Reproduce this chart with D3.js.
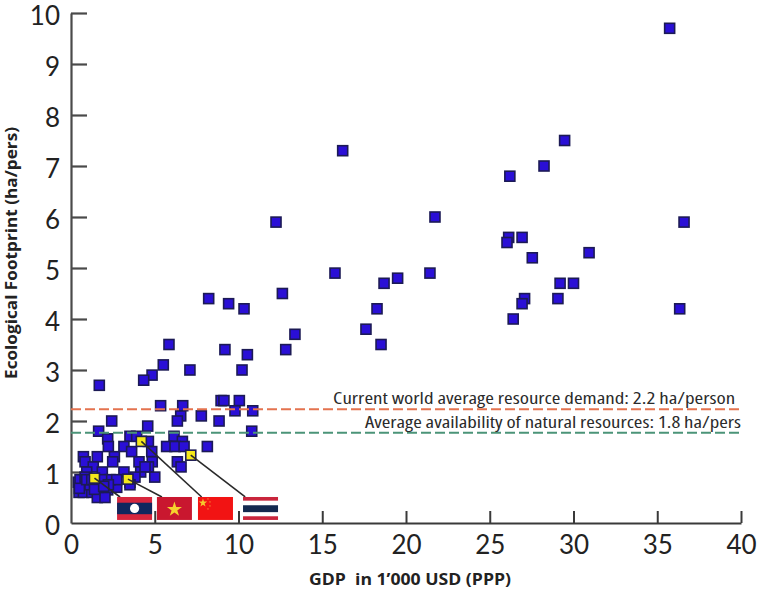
<!DOCTYPE html>
<html>
<head>
<meta charset="utf-8">
<script src="https://cdn.jsdelivr.net/npm/d3@7"></script>
<style>
  html, body { margin: 0; padding: 0; background: #fff; }
  svg { display: block; }
  text { font-family: "Open Sans", "Noto Sans", sans-serif; }
</style>
</head>
<body>
<div id="graph"></div>
<script>
// values
let gdp = [35.74,29.47,28.24,26.2,36.6,26.13,26.03,26.93,27.54,30.93,29.2,30,29.07,27.08,26.93,26.4,36.34,
  16.22,12.24,21.73,15.76,21.43,19.5,18.69,12.62,10.33,18.27,17.61,13.37,18.51,12.82,10.53,
  8.22,9.41,5.85,9.19,5.51,4.84,4.34,7.1,10.21,1.69,8.96,9.13,10.05,5.35,6.67,6.55,6.35,7.78,9.79,10.85,8.84,2.43,4.58,1.65,10.79,
  3.52,3.92,6.15,4.62,6.65,3.16,3.62,4.82,5.71,6.21,6.75,8.14,6.35,6.57,4.06,4.85,4.62,4.16,5,3.16,3.52,3.82,
  2.19,2.23,2.59,2.49,0.74,1.57,0.84,1.33,1.87,0.94,0.44,0.64,0.94,0.48,0.74,1.24,1.73,2.19,2.73,2.33,1.83,2.73,1.57,2.03,1.13,1.6,2.23,3.52,4.42,0.54,0.84,
  0.5,0.94,1.24,1.4,1.95];
let footprint = [9.7,7.5,7,6.8,5.9,5.6,5.5,5.6,5.2,5.3,4.7,4.7,4.4,4.4,4.3,4,4.2,
  7.3,5.9,6,4.9,4.9,4.8,4.7,4.5,4.2,4.2,3.8,3.7,3.5,3.4,3.3,
  4.4,4.3,3.5,3.4,3.1,2.9,2.8,3,3,2.7,2.4,2.4,2.4,2.3,2.3,2.1,2,2.1,2.2,2.2,2,2,1.9,1.8,1.8,
  1.7,1.7,1.7,1.6,1.6,1.5,1.4,1.4,1.5,1.5,1.5,1.5,1.2,1.1,1.2,1.2,1.1,1,0.9,1,0.8,0.9,
  1.65,1.5,1.3,1.2,1.3,1.3,1.2,1.1,1,1,0.8,0.7,0.7,0.6,0.6,0.6,0.63,0.65,0.7,0.85,0.85,0.85,0.5,0.5,0.75,0.7,0.75,0.75,1.1,0.85,0.9,
  0.68,0.85,0.85,0.66,0.72];

let flagNames = ["laos", "vietnam", "china", "thailand"];
let flagGdp = [1.4, 3.4, 4.2, 7.15];        // yellow points
let flagFootprint = [0.88, 0.86, 1.6, 1.33];
let flagLeft = [2.75, 5.13, 7.58, 10.27];   // left edge of each flag, x units
let flagEndX = [2.93, 5.43, 7.8, 10.4];     // where the leader line stops
let flagTop = 0.51, flagBottom = 0.06, flagWide = 2.09;

let refValues = [2.23, 1.77];
let refColors = ["#e4734f", "#4b9478"];
let refLabels = ["Current world average resource demand: 2.2 ha/person",
                 "Average availability of natural resources: 1.8 ha/pers"];
let refLabelEnd = [39.65, 40];
let refLabelWide = [402, 376];
let xTicks = [0,5,10,15,20,25,30,35,40];
let yTicks = [0,1,2,3,4,5,6,7,8,9,10];

let W = 759, H = 592;
let left = 71, top_ = 13, right = 741, bottom = 523;

let svg = d3.select("#graph").append("svg").attr("width", W).attr("height", H);
let x = d3.scaleLinear().domain([0,40]).range([left,right]);
let y = d3.scaleLinear().domain([0,10]).range([bottom,top_]);

// axes
let axX = svg.append("g").attr("transform","translate(0,"+bottom+")")
  .call(d3.axisBottom(x).tickValues(xTicks).tickFormat(d3.format("d")).tickSizeInner(-12).tickSizeOuter(0).tickPadding(13));
let axY = svg.append("g").attr("transform","translate("+left+",0)")
  .call(d3.axisLeft(y).tickValues(yTicks).tickFormat(d3.format("d")).tickSizeInner(-16).tickSizeOuter(0).tickPadding(11));
axX.selectAll("path,line").attr("stroke","#3a3a3a").attr("stroke-width",2);
axY.selectAll("path,line").attr("stroke","#4a4a4a").attr("stroke-width",2.2);
axX.select("g.tick line").remove();
axY.select("g.tick line").remove();
[axX, axY].forEach(a => a.selectAll("text")
  .attr("fill","#222").style("font-size","26px").style("font-family",'Lato, sans-serif'));
axY.selectAll("text").attr("dy","0.46em");

// points
function squares(xs, ys, fill) {
  svg.append("g").selectAll("rect").data(xs).enter().append("rect")
    .attr("x", (d,i) => x(d)-5)
    .attr("y", (d,i) => y(ys[i])-5)
    .attr("width",10).attr("height",10)
    .attr("fill",fill)
    .attr("stroke","#1c1a55").attr("stroke-width",1.6);
}
squares(gdp, footprint, "#2a0fd6");
squares(flagGdp, flagFootprint, "#f4e81a");

// reference lines
refValues.forEach((v,i) => {
  svg.append("line")
    .attr("x1",x(0)).attr("x2",x(40)).attr("y1",y(v)).attr("y2",y(v))
    .attr("stroke",refColors[i]).attr("stroke-width",1.8).attr("stroke-dasharray","10,4");
  svg.append("text")
    .attr("x",x(refLabelEnd[i])).attr("y",y(v)-5)
    .attr("text-anchor","end").attr("fill","#2b2b2b")
    .attr("textLength",refLabelWide[i]).attr("lengthAdjust","spacingAndGlyphs")
    .style("font-size","16px").style("font-stretch","85%").text(refLabels[i]);
});

// leader lines
flagNames.forEach((n,i) => {
  svg.append("line")
    .attr("x1",x(flagGdp[i])).attr("y1",y(flagFootprint[i]))
    .attr("x2",x(flagEndX[i])).attr("y2",y(flagTop))
    .attr("stroke","#2a2a2a").attr("stroke-width",1.6);
});

// flags
flagNames.forEach((n,i) => {
  let fx = x(flagLeft[i]), fy = y(flagTop);
  let fw = x(flagWide)-x(0), fh = y(flagBottom)-y(flagTop);
  let g = svg.append("g").attr("transform","translate("+fx+","+fy+")");
  if (n=="laos") {
    g.append("rect").attr("width",fw).attr("height",fh).attr("fill","#d7263d");
    g.append("rect").attr("y",fh*0.25).attr("width",fw).attr("height",fh*0.5).attr("fill","#10275e");
    g.append("circle").attr("cx",fw/2).attr("cy",fh/2).attr("r",fh*0.2).attr("fill","#fff");
  }
  if (n=="vietnam") {
    g.append("rect").attr("width",fw).attr("height",fh).attr("fill","#c9172f");
    g.append("path").attr("d",d3.symbol(d3.symbolStar,70)).attr("transform","translate("+fw/2+","+(fh/2+1)+")").attr("fill","#f6d32d");
  }
  if (n=="china") {
    g.append("rect").attr("width",fw).attr("height",fh).attr("fill","#f21313");
    g.append("path").attr("d",d3.symbol(d3.symbolStar,22)).attr("transform","translate(5,6)").attr("fill","#f6c82d");
    [[10,2],[12,5],[12,9],[10,12]].forEach(s => {
      g.append("path").attr("d",d3.symbol(d3.symbolStar,2)).attr("transform","translate("+s[0]+","+s[1]+")").attr("fill","#f66a2d");
    });
  }
  if (n=="thailand") {
    g.append("rect").attr("y",0).attr("width",fw).attr("height",fh*0.16).attr("fill","#c9253c");
    g.append("rect").attr("y",fh*0.36).attr("width",fw).attr("height",fh*0.3).attr("fill","#14294f");
    g.append("rect").attr("y",fh*0.84).attr("width",fw).attr("height",fh*0.16).attr("fill","#c9253c");
  }
});

// axis titles
svg.append("text").attr("x",410).attr("y",585).attr("text-anchor","middle")
  .attr("fill","#222").style("font-size","15.5px").style("font-weight","bold")
  .attr("textLength",202).attr("lengthAdjust","spacingAndGlyphs")
  .attr("xml:space","preserve").text("GDP  in 1\u2019000 USD (PPP)");
svg.append("text").attr("transform","translate(17,253) rotate(-90)").attr("text-anchor","middle")
  .attr("fill","#222").style("font-size","15.5px").style("font-weight","bold")
  .attr("textLength",252).attr("lengthAdjust","spacingAndGlyphs")
  .text("Ecological Footprint (ha/pers)");
</script>
</body>
</html>
